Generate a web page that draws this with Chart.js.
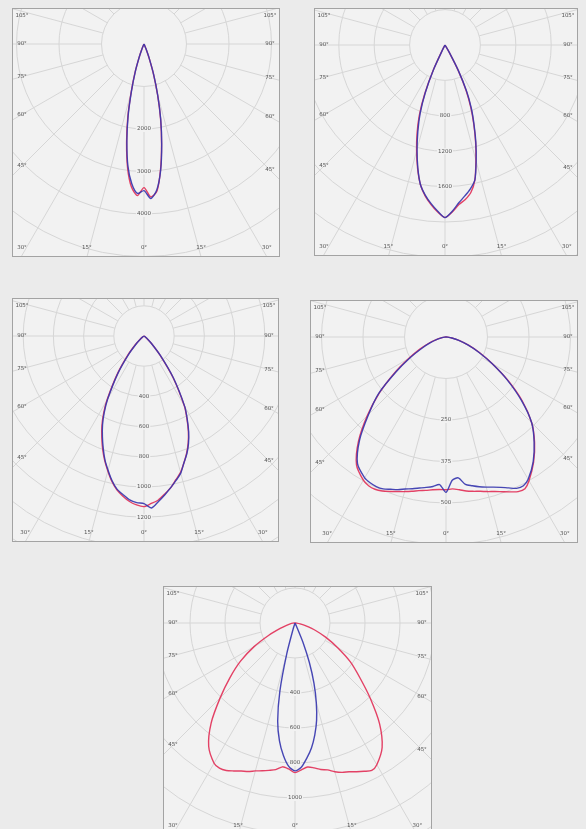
<!DOCTYPE html>
<html>
<head>
<meta charset="utf-8">
<script src="https://cdn.jsdelivr.net/npm/chart.js@4.4.0/dist/chart.umd.min.js"></script>
<style>
  body { margin:0; background:#ebebeb; width:586px; height:829px; overflow:hidden; position:relative; }
  .panel { position:absolute; }
  .panel canvas { display:block; }
</style>
</head>
<body>
<div class="panel" style="left:12px;top:8px"><canvas id="c1" width="268" height="249"></canvas></div>
<div class="panel" style="left:314px;top:8px"><canvas id="c2" width="264" height="248"></canvas></div>
<div class="panel" style="left:12px;top:298px"><canvas id="c3" width="267" height="244"></canvas></div>
<div class="panel" style="left:310px;top:300px"><canvas id="c4" width="268" height="243"></canvas></div>
<div class="panel" style="left:163px;top:586px"><canvas id="c5" width="269" height="249"></canvas></div>
<script>
// gamma angles (deg), negative = left half of the plane
const gamma = [-90,-85,-80,-75,-70,-65,-60,-55,-50,-45,-40,-35,-30,
  -27.5,-25,-22.5,-20,-17.5,-15,-12.5,-10,-7.5,-5,-2.5,0,2.5,5,7.5,10,12.5,15,17.5,20,22.5,25,27.5,
  30,35,40,45,50,55,60,65,70,75,80,85,90];

// angle labels on the frame
const sideAngles = [45, 60, 75, 90, 105];
const bottomAngles = [0, 15, 30];

// panel 1 (cd)
const p1Step = 1000;
const p1Ticks = [2000, 3000, 4000];
const p1Blue = [0,0,0,0,0,0,0,0,0,0,0,0,0,
  0,30,120,320,680,1120,1720,2320,2900,3300,3520,3450,3640,3450,3000,2400,1820,1250,760,360,130,30,0,
  0,0,0,0,0,0,0,0,0,0,0,0,0];
const p1Red = [0,0,0,0,0,0,0,0,0,0,0,0,0,
  0,40,140,340,700,1150,1760,2360,2950,3380,3570,3380,3600,3480,2980,2380,1800,1230,740,350,120,30,0,
  0,0,0,0,0,0,0,0,0,0,0,0,0];

// panel 2
const p2Step = 400;
const p2Ticks = [800, 1200, 1600];
const p2Blue = [0,0,0,0,0,0,0,0,0,0,0,0,0,
  40,300,580,820,1020,1220,1420,1600,1710,1800,1880,1950,1880,1790,1720,1650,1560,1360,1160,960,780,580,330,
  100,0,0,0,0,0,0,0,0,0,0,0,0];
const p2Red = [0,0,0,0,0,0,0,0,0,0,0,0,0,
  60,320,600,850,1050,1240,1430,1600,1720,1810,1890,1950,1890,1810,1760,1690,1560,1350,1150,950,760,560,320,
  90,0,0,0,0,0,0,0,0,0,0,0,0];

// panel 3
const p3Step = 200;
const p3Ticks = [400, 600, 800, 1000, 1200];
const p3Blue = [0,0,0,0,0,0,0,10,30,70,160,300,480,
  570,650,720,790,860,920,980,1030,1060,1090,1105,1110,1140,1100,1060,1020,980,940,880,830,770,700,620,
  540,340,170,70,30,10,0,0,0,0,0,0,0];
const p3Red = [0,0,0,0,0,0,0,10,35,80,170,310,490,
  580,660,730,800,865,925,985,1035,1070,1100,1120,1130,1110,1090,1055,1020,975,935,880,825,765,695,615,
  535,335,165,70,25,8,0,0,0,0,0,0,0];

// panel 4
const p4Step = 125;
const p4Ticks = [250, 375, 500];
const p4Blue = [0,4,12,28,50,80,125,185,265,330,405,465,490,
  495,497,495,488,482,474,468,462,457,452,445,468,432,426,448,455,462,468,474,482,492,503,505,
  495,458,413,365,296,225,160,110,70,40,18,5,0];
const p4Red = [0,4,12,30,55,88,130,190,262,335,410,470,498,
  505,506,502,495,488,482,476,470,466,462,460,460,458,462,468,472,476,482,488,496,505,514,515,
  500,460,415,365,300,228,162,112,72,42,18,5,0];

// panel 5
const p5Step = 200;
const p5Ticks = [400, 600, 800, 1000];
const p5Blue = [0,0,0,0,0,0,0,0,0,0,0,0,0,
  0,0,0,0,30,180,400,570,680,760,820,845,825,775,720,650,570,470,360,240,120,20,0,
  0,0,0,0,0,0,0,0,0,0,0,0,0];
const p5Red = [0,12,28,50,90,165,270,380,485,605,745,860,925,
  935,930,915,900,890,875,865,855,845,825,835,855,840,826,835,850,860,880,895,905,920,935,950,
  935,868,752,608,482,385,280,195,125,65,30,10,0];

const BLUE = 'rgba(55,55,175,0.92)';
const RED = 'rgba(225,45,85,0.9)';

function toPoints(values) {
  return gamma.map((g, i) => {
    const a = g * Math.PI / 180;
    return { x: values[i] * Math.sin(a), y: -values[i] * Math.cos(a) };
  });
}

const polarGrid = {
  id: 'polarGrid',
  beforeDatasetsDraw(chart, args, opts) {
    const { ctx, chartArea: a, scales: { x, y } } = chart;
    const ox = x.getPixelForValue(0), oy = y.getPixelForValue(0);
    const unit = x.getPixelForValue(opts.step) - ox;
    ctx.save();
    ctx.fillStyle = '#f2f2f2';
    ctx.fillRect(a.left, a.top, a.right - a.left, a.bottom - a.top);
    ctx.beginPath();
    ctx.rect(a.left, a.top, a.right - a.left, a.bottom - a.top);
    ctx.clip();
    ctx.strokeStyle = '#d6d6d6';
    ctx.lineWidth = 1;
    for (let k = 1; k <= 12; k++) {
      ctx.beginPath();
      ctx.arc(ox, oy, k * unit, 0, Math.PI * 2);
      ctx.stroke();
    }
    for (let deg = -165; deg <= 180; deg += 15) {
      const t = deg * Math.PI / 180;
      const dx = Math.sin(t), dy = Math.cos(t);
      ctx.beginPath();
      ctx.moveTo(ox + dx * unit, oy + dy * unit);
      ctx.lineTo(ox + dx * 1000, oy + dy * 1000);
      ctx.stroke();
    }
    ctx.restore();

    ctx.save();
    ctx.font = '5.5px "DejaVu Sans"';
    ctx.textAlign = 'center';
    ctx.textBaseline = 'middle';
    // intensity labels on the 0° axis
    opts.ticks.forEach(v => {
      const py = oy + v / opts.step * unit;
      const txt = String(v);
      const w = ctx.measureText(txt).width + 2;
      ctx.fillStyle = '#f2f2f2';
      ctx.fillRect(ox - w / 2, py - 3, w, 6);
      ctx.fillStyle = '#555';
      ctx.fillText(txt, ox, py);
    });
    // angle labels at the frame
    ctx.fillStyle = '#555';
    [-1, 1].forEach(s => {
      sideAngles.forEach(deg => {
        const t = deg * Math.PI / 180;
        const lx = s < 0 ? a.left + 10 : a.right - 10;
        let ly = oy + Math.abs(lx - ox) / Math.tan(t);
        if (deg === 90) ly = oy;
        ly = Math.max(ly, a.top + 8);
        ctx.fillText(deg + '°', lx, ly);
      });
      bottomAngles.forEach(deg => {
        if (deg === 0 && s < 0) return;
        const t = deg * Math.PI / 180;
        let lx = ox + s * (a.bottom - oy) * Math.tan(t);
        lx = Math.min(Math.max(lx, a.left + 10), a.right - 10);
        ctx.fillText(deg + '°', lx, a.bottom - 9);
      });
    });
    ctx.restore();
  },
  afterDraw(chart) {
    const { ctx, chartArea: a } = chart;
    ctx.save();
    ctx.strokeStyle = '#a3a3a3';
    ctx.lineWidth = 1;
    ctx.strokeRect(a.left + 0.5, a.top + 0.5, a.right - a.left - 1, a.bottom - a.top - 1);
    ctx.restore();
  }
};

function makeChart(id, cx, cy, ringPx, step, ticks, blue, red) {
  const canvas = document.getElementById(id);
  const w = canvas.width, h = canvas.height;
  const k = step / ringPx;
  new Chart(canvas, {
    type: 'scatter',
    data: {
      datasets: [
        { label: 'C0-C180', data: toPoints(blue), borderColor: BLUE, order: 0 },
        { label: 'C90-C270', data: toPoints(red), borderColor: RED, order: 1 }
      ]
    },
    options: {
      responsive: false,
      devicePixelRatio: 1,
      animation: false,
      layout: { padding: 0 },
      showLine: true,
      elements: {
        point: { radius: 0, hoverRadius: 0 },
        line: { borderWidth: 1.4, tension: 0.25, fill: false }
      },
      scales: {
        x: { type: 'linear', display: false, min: -cx * k, max: (w - cx) * k },
        y: { type: 'linear', display: false, min: -(h - cy) * k, max: cy * k }
      },
      plugins: {
        legend: { display: false },
        tooltip: { enabled: false },
        polarGrid: { step: step, ticks: ticks }
      }
    },
    plugins: [polarGrid]
  });
}

makeChart('c1', 132, 36, 42.5, p1Step, p1Ticks, p1Blue, p1Red);
makeChart('c2', 131, 37, 35.4, p2Step, p2Ticks, p2Blue, p2Red);
makeChart('c3', 132, 38, 30.2, p3Step, p3Ticks, p3Blue, p3Red);
makeChart('c4', 136, 37, 41.5, p4Step, p4Ticks, p4Blue, p4Red);
makeChart('c5', 132, 37, 35, p5Step, p5Ticks, p5Blue, p5Red);
</script>
</body>
</html>
